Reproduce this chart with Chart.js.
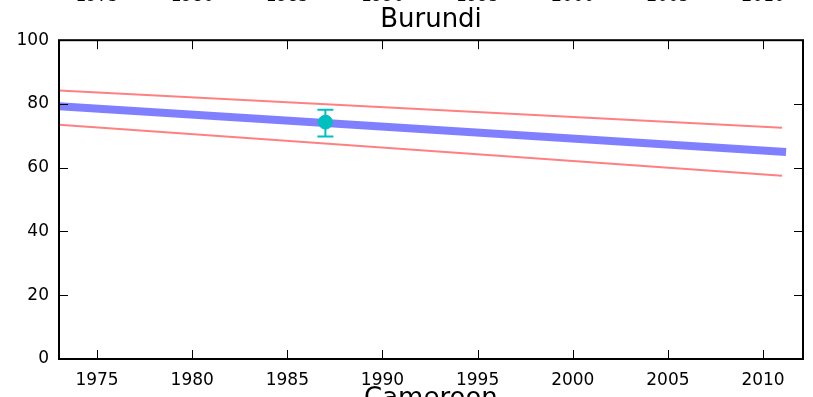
<!DOCTYPE html>
<html>
<head>
<meta charset="utf-8">
<script src="https://cdn.jsdelivr.net/npm/chart.js@4.4.1/dist/chart.umd.min.js"></script>
<style>
  html, body { margin: 0; padding: 0; background: #fff; }
  #wrap { position: relative; width: 813px; height: 397px; overflow: hidden; font-family: "DejaVu Sans", sans-serif; }
  #c { position: absolute; left: 0; top: 0; }
  .cut { position: absolute; color: #000; white-space: nowrap; }
</style>
</head>
<body>
<div id="wrap">
  <canvas id="c" width="813" height="397"></canvas>
</div>
<script>
// values
var years = [1973, 2011];
var trend = [79.3, 65.0];
var upper = [84.2, 72.5];
var lower = [73.5, 57.5];
var obsYear = [1987];
var obsValue = [74.3];
var obsLow = [69.8];
var obsHigh = [78.2];
var xTicks = [1975, 1980, 1985, 1990, 1995, 2000, 2005, 2010];
var yTicks = [0, 20, 40, 60, 80, 100];
var titleText = 'Burundi';
var nextTitle = 'Cameroon';

function pts(xs, ys) {
  return xs.map(function (x, i) { return { x: x, y: ys[i] }; });
}

var frame = {
  id: 'frame',
  afterDatasetsDraw: function (chart) {
    var ctx = chart.ctx, a = chart.chartArea;
    var xs = chart.scales.x, ys = chart.scales.y;
    ctx.save();
    // error bars
    ctx.strokeStyle = '#00bfbf';
    ctx.lineWidth = 2;
    obsYear.forEach(function (yr, i) {
      var px = xs.getPixelForValue(yr);
      var lo = ys.getPixelForValue(obsLow[i]), hi = ys.getPixelForValue(obsHigh[i]);
      ctx.beginPath();
      ctx.moveTo(px, lo); ctx.lineTo(px, hi);
      ctx.moveTo(px - 8, lo); ctx.lineTo(px + 8, lo);
      ctx.moveTo(px - 8, hi); ctx.lineTo(px + 8, hi);
      ctx.stroke();
    });
    // inward ticks on all four sides
    ctx.strokeStyle = '#000';
    ctx.lineWidth = 1;
    ctx.beginPath();
    xTicks.forEach(function (t) {
      var px = Math.round(xs.getPixelForValue(t)) + 0.5;
      ctx.moveTo(px, a.bottom); ctx.lineTo(px, a.bottom - 9);
      ctx.moveTo(px, a.top); ctx.lineTo(px, a.top + 9);
    });
    yTicks.forEach(function (t) {
      var py = Math.round(ys.getPixelForValue(t)) + 0.5;
      ctx.moveTo(a.left, py); ctx.lineTo(a.left + 9, py);
      ctx.moveTo(a.right, py); ctx.lineTo(a.right - 9, py);
    });
    ctx.stroke();
    // box
    ctx.lineWidth = 2;
    ctx.strokeRect(a.left, a.top, a.right - a.left, a.bottom - a.top);
    ctx.restore();
  }
};

var chart = new Chart(document.getElementById('c'), {
  type: 'line',
  data: {
    datasets: [
      {
        data: pts(obsYear, obsValue),
        showLine: false,
        pointRadius: 7,
        backgroundColor: '#00bfbf',
        borderColor: '#00bfbf',
        borderWidth: 1,
        order: 0
      },
      {
        data: pts(years, trend),
        borderColor: '#8080ff',
        borderWidth: 8,
        borderCapStyle: 'square',
        pointRadius: 0,
        order: 1
      },
      {
        data: pts(years, upper),
        borderColor: '#ff8080',
        borderWidth: 2,
        pointRadius: 0,
        order: 2
      },
      {
        data: pts(years, lower),
        borderColor: '#ff8080',
        borderWidth: 2,
        pointRadius: 0,
        order: 2
      }
    ]
  },
  options: {
    responsive: false,
    animation: false,
    layout: { padding: { left: 0, right: 10, top: 0, bottom: 0 } },
    plugins: {
      legend: { display: false },
      tooltip: { enabled: false },
      title: {
        display: true,
        text: titleText,
        fullSize: false,
        color: '#000',
        font: { family: 'DejaVu Sans', size: 26, weight: 'normal', lineHeight: 1.2 },
        padding: { top: 5, bottom: 4 }
      }
    },
    scales: {
      x: {
        type: 'linear',
        min: 1973,
        max: 2012.1,
        grid: { display: false },
        border: { display: false },
        afterBuildTicks: function (s) { s.ticks = xTicks.map(function (v) { return { value: v }; }); },
        afterFit: function (s) { s.height = 38; },
        ticks: {
          color: '#000',
          padding: 3,
          maxRotation: 0,
          font: { family: 'DejaVu Sans', size: 17 },
          callback: function (v) { return String(v); }
        }
      },
      y: {
        min: 0,
        max: 100,
        grid: { display: false },
        border: { display: false },
        afterBuildTicks: function (s) { s.ticks = yTicks.map(function (v) { return { value: v }; }); },
        afterFit: function (s) { s.width = 59; },
        ticks: {
          color: '#000',
          padding: 2,
          font: { family: 'DejaVu Sans', size: 17 }
        }
      }
    }
  },
  plugins: [frame]
});

// clipped text of neighbouring panels above and below
var wrap = document.getElementById('wrap');
xTicks.forEach(function (t) {
  var d = document.createElement('div');
  d.className = 'cut';
  d.style.font = '17px "DejaVu Sans"';
  d.textContent = String(t);
  wrap.appendChild(d);
  d.style.left = (chart.scales.x.getPixelForValue(t) - d.offsetWidth / 2) + 'px';
  d.style.top = '-15px';
});
var n = document.createElement('div');
n.className = 'cut';
n.style.font = '26px "DejaVu Sans"';
n.textContent = nextTitle;
wrap.appendChild(n);
var a = chart.chartArea;
n.style.left = ((a.left + a.right) / 2 - n.offsetWidth / 2) + 'px';
n.style.top = '382px';
</script>
</body>
</html>
